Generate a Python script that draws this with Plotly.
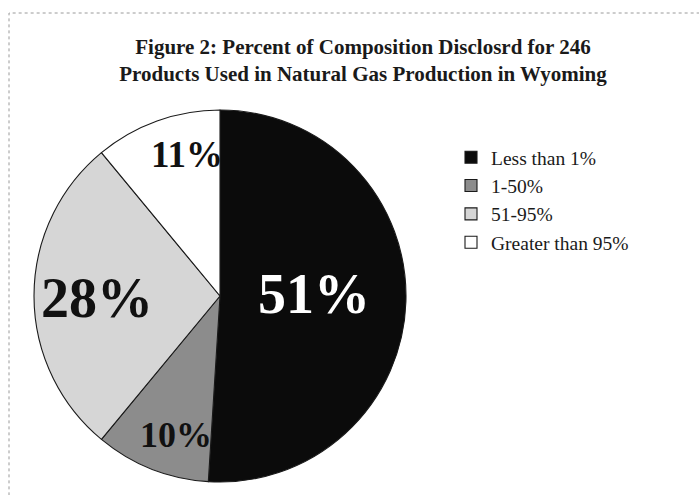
import math
import plotly.graph_objects as go

categories = ["Less than 1%", "1-50%", "51-95%", "Greater than 95%"]
shares = [51, 10, 28, 11]
slice_colors = ["#0b0b0b", "#8c8c8c", "#d6d6d6", "#ffffff"]
label_colors = ["#ffffff", "#111111", "#111111", "#111111"]
label_sizes = [56, 36, 56, 37]
# radial position (fraction of radius) and angular nudge (degrees) of each label
label_radius = [0.505, 0.785, 0.66, 0.78]
label_nudge = [-3.3, -4.0, -1.0, 6.5]

SERIF = "Liberation Serif, Times New Roman, serif"
W, H = 699, 495
PIE_CX, PIE_CY, PIE_R = 220, 296, 186

fig = go.Figure(
    go.Pie(
        labels=categories,
        values=shares,
        sort=False,
        direction="clockwise",
        rotation=0,
        marker=dict(colors=slice_colors, line=dict(color="#1a1a1a", width=1.1)),
        textinfo="none",
        domain=dict(
            x=[(PIE_CX - PIE_R) / W, (PIE_CX + PIE_R) / W],
            y=[1 - (PIE_CY + PIE_R) / H, 1 - (PIE_CY - PIE_R) / H],
        ),
        hoverinfo="label+percent",
    )
)

# percentage labels placed at each slice's mid-angle (clockwise from 12 o'clock)
total = sum(shares)
annotations = []
cum = 0.0
for val, col, size, rf, nudge in zip(shares, label_colors, label_sizes, label_radius, label_nudge):
    mid = (cum + val / 2) / total * 360 + nudge
    cum += val
    a = math.radians(mid)
    px = PIE_CX + rf * PIE_R * math.sin(a)
    py = PIE_CY - rf * PIE_R * math.cos(a)
    annotations.append(
        dict(
            x=px / W,
            y=1 - py / H,
            xref="paper",
            yref="paper",
            text=f"<b>{val}%</b>",
            showarrow=False,
            xanchor="center",
            yanchor="middle",
            font=dict(family=SERIF, size=size, color=col),
        )
    )

fig.update_layout(
    width=W,
    height=H,
    margin=dict(l=0, r=0, t=0, b=0),
    paper_bgcolor="#ffffff",
    plot_bgcolor="#ffffff",
    title=dict(
        text="<b>Figure 2: Percent of Composition Disclosrd for 246<br>Products Used in Natural Gas Production in Wyoming</b>",
        font=dict(family=SERIF, size=21, color="#1a1a1a"),
        x=363 / W,
        xanchor="center",
        y=1 - 54 / H,
        yanchor="top",
    ),
    legend=dict(
        x=451 / W,
        y=1 - 138 / H,
        xanchor="left",
        yanchor="top",
        font=dict(family=SERIF, size=19.5, color="#1a1a1a"),
        bgcolor="rgba(0,0,0,0)",
        itemwidth=30,
    ),
    showlegend=True,
    annotations=annotations,
    shapes=[
        dict(
            type="rect",
            xref="paper",
            yref="paper",
            x0=9 / W,
            x1=1.05,
            y0=-0.05,
            y1=1 - 13 / H,
            line=dict(color="#9a9a9a", width=1, dash="dot"),
            fillcolor="rgba(0,0,0,0)",
            layer="below",
        )
    ],
)

fig.write_html("out.html")
